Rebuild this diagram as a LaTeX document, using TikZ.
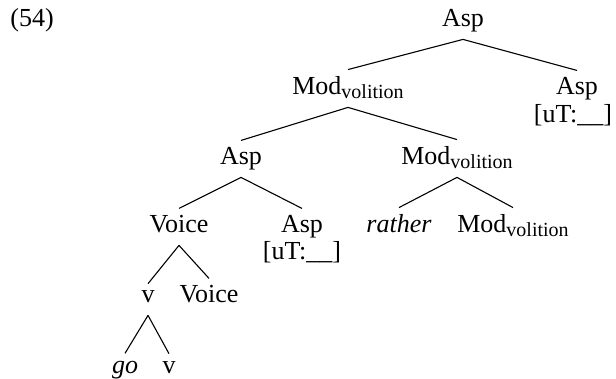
\documentclass[tikz,border=0pt]{standalone}
\usepackage{fontspec}
\setmainfont{Liberation Serif}
\usepackage{tikz}
\newcommand{\volsub}[1]{\raisebox{-1.8pt}{\fontsize{10}{10}\selectfont #1}}

\begin{document}
\begin{tikzpicture}[x=0.5pt, y=-0.5pt,
    cat/.style={anchor=base, inner sep=3.5pt, text depth=2.5pt, font=\fontsize{13}{15}\selectfont},
    feat/.style={anchor=base, inner sep=0pt, font=\fontsize{13}{15}\selectfont},
    branch/.style={line width=0.55pt}]
        \useasboundingbox (0,0) rectangle (616,379);
        \node[feat, anchor=base west] (ex) at (10,27) {(54)};
        \node[cat] (asp0) at (463,27) {Asp};
        \node[cat] (mod1) at (348,95) {Mod\volsub{volition}};
        \node[cat] (aspR) at (577,95) {Asp};
        \node[feat] (aspRf) at ([xshift=-2pt,yshift=-14pt]aspR.base) {[uT:\_\_]};
        \node[cat] (asp1) at (241,165) {Asp};
        \node[cat] (mod2) at (457,165) {Mod\volsub{volition}};
        \node[cat] (voice1) at (179,233) {Voice};
        \node[cat] (aspL) at (302,233) {Asp};
        \node[feat] (aspLf) at ([yshift=-13.5pt]aspL.base) {[uT:\_\_]};
        \node[cat] (rather) at (399,233) {\textit{rather}};
        \node[cat] (mod3) at (513,233) {Mod\volsub{volition}};
        \node[cat] (v1) at (148,303) {v};
        \node[cat] (voice2) at (209,303) {Voice};
        \node[cat] (go) at (125,373) {\textit{go}};
        \node[cat] (v2) at (169,373) {v};
        \draw[branch] (asp0.south) -- (mod1.north);
        \draw[branch] (asp0.south) -- (aspR.north);
        \draw[branch] (mod1.south) -- (asp1.north);
        \draw[branch] (mod1.south) -- (mod2.north);
        \draw[branch] (asp1.south) -- (voice1.north);
        \draw[branch] (asp1.south) -- (aspL.north);
        \draw[branch] (mod2.south) -- (rather.north);
        \draw[branch] (mod2.south) -- (mod3.north);
        \draw[branch] (voice1.south) -- (v1.north);
        \draw[branch] (voice1.south) -- (voice2.north);
        \draw[branch] (v1.south) -- (go.north);
        \draw[branch] (v1.south) -- (v2.north);
      \end{tikzpicture}
\end{document}
